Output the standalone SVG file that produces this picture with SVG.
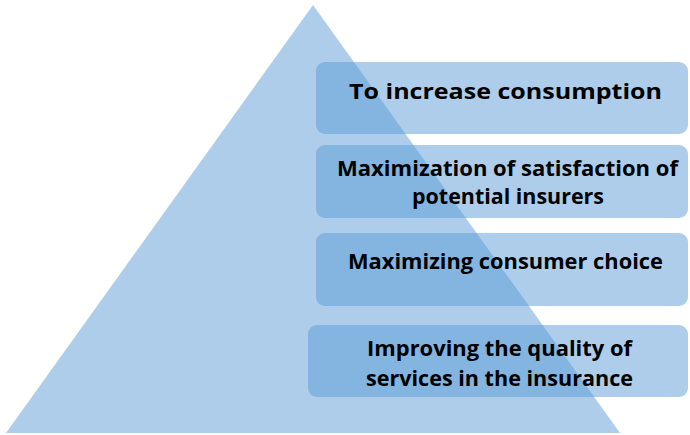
<svg xmlns="http://www.w3.org/2000/svg" width="690" height="435" viewBox="0 0 690 435">
<style>
.shape{fill:#5b9bd5;fill-opacity:0.5}
.lbl{font-family:"Open Sans","Liberation Sans",sans-serif;font-weight:700;font-size:21.5px;fill:#000;text-anchor:middle}
</style>
<rect width="690" height="435" fill="#fff"/>
<g id="pyramid"><polygon class="shape" points="313,5 620,433 6,433"/></g>
<g id="box1"><rect class="shape" x="316" y="62" width="372" height="72" rx="9"/>
<text class="lbl" x="505.5" y="99" textLength="313" lengthAdjust="spacingAndGlyphs">To increase consumption</text></g>
<g id="box2"><rect class="shape" x="316" y="145" width="372" height="73" rx="9"/>
<text class="lbl" x="507.5" y="176" textLength="341" lengthAdjust="spacingAndGlyphs">Maximization of satisfaction of</text>
<text class="lbl" x="508" y="204" textLength="192" lengthAdjust="spacingAndGlyphs">potential insurers</text></g>
<g id="box3"><rect class="shape" x="316" y="233" width="372" height="73" rx="9"/>
<text class="lbl" x="505.5" y="269" textLength="315" lengthAdjust="spacingAndGlyphs">Maximizing consumer choice</text></g>
<g id="box4"><rect class="shape" x="308" y="325" width="380" height="72" rx="9"/>
<text class="lbl" x="499.5" y="356" textLength="265" lengthAdjust="spacingAndGlyphs">Improving the quality of</text>
<text class="lbl" x="499.5" y="386" textLength="267" lengthAdjust="spacingAndGlyphs">services in the insurance</text></g>
<g id="connectors"></g>
</svg>
